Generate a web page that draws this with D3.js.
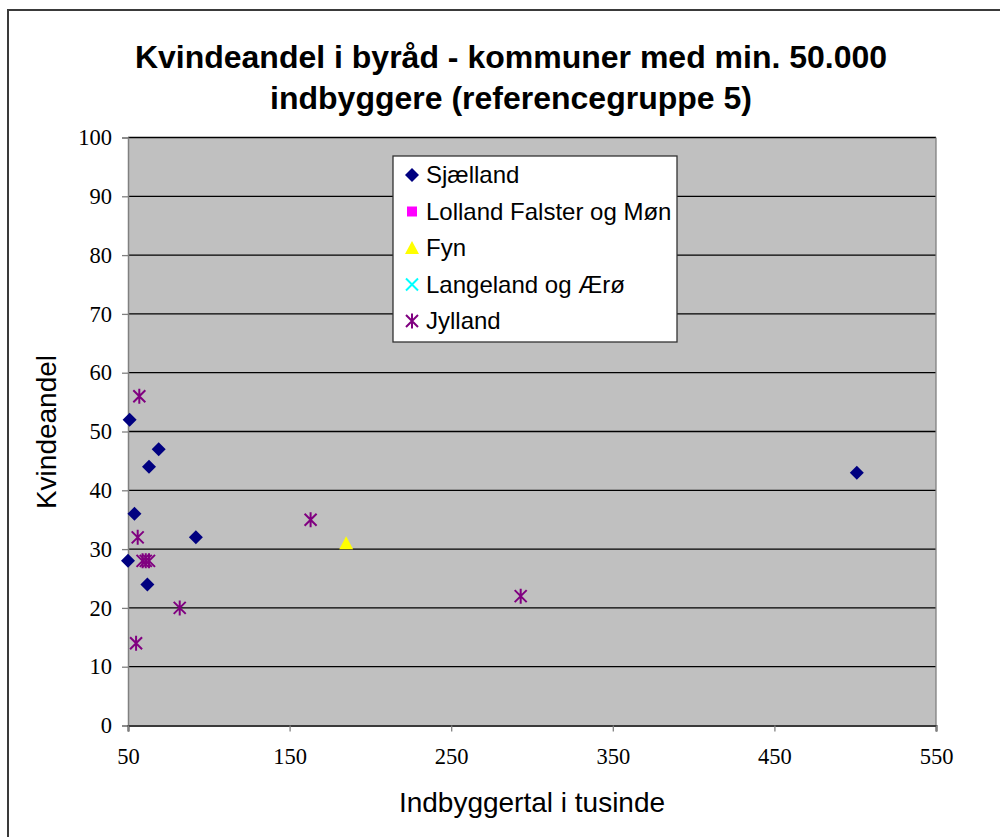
<!DOCTYPE html>
<html>
<head>
<meta charset="utf-8">
<script src="https://cdn.jsdelivr.net/npm/d3@7"></script>
<style>
  body { margin: 0; background: #fff; }
  svg { display: block; }
  .title { font-family: "Liberation Sans", Arial, sans-serif; font-weight: bold; font-size: 32px; }
  .axisTitle { font-family: "Liberation Sans", Arial, sans-serif; font-size: 28px; }
  .tickLabel { font-family: "Liberation Serif", "Times New Roman", serif; font-size: 22.5px; }
  .legendText { font-family: "Liberation Sans", Arial, sans-serif; font-size: 24px; }
</style>
</head>
<body>
<div id="chart"></div>
<script>
// data (x = indbyggere i tusinde, y = kvindeandel i %)
var seriesNames = ["Sjælland", "Lolland Falster og Møn", "Fyn", "Langeland og Ærø", "Jylland"];
var sjaelland = [[51, 52], [69, 47], [63, 44], [54, 36], [92, 32], [50, 28], [62, 24], [501, 43]];
var lollandFalster = [];
var fyn = [[185, 31]];
var langeland = [];
var jylland = [[57, 56], [56, 32], [59, 28], [61, 28], [63, 28], [82, 20], [55, 14], [163, 35], [293, 22]];
var xTicks = [50, 150, 250, 350, 450, 550];
var yTicks = [0, 10, 20, 30, 40, 50, 60, 70, 80, 90, 100];

var width = 1000, height = 837;
var margin = {top: 137.5, right: 64, bottom: 111.5, left: 128};
var plotW = width - margin.left - margin.right,
    plotH = height - margin.top - margin.bottom;

var series = [
    {name: seriesNames[0], data: sjaelland, color: "#000080", shape: "diamond"},
    {name: seriesNames[1], data: lollandFalster, color: "#ff00ff", shape: "square"},
    {name: seriesNames[2], data: fyn, color: "#ffff00", shape: "triangle"},
    {name: seriesNames[3], data: langeland, color: "#00ffff", shape: "x"},
    {name: seriesNames[4], data: jylland, color: "#800080", shape: "star"}
];

// marker paths centred on 0,0 (Excel style)
function markerPath(shape) {
    var r = 7;
    switch (shape) {
        case "diamond": return "M0," + (-r) + "L" + r + ",0L0," + r + "L" + (-r) + ",0Z";
        case "square": return "M-5,-5h10v10h-10Z";
        case "triangle": return "M0,-7L7,6L-7,6Z";
        case "x": return "M-6,-6L6,6M-6,6L6,-6";
        case "star": return "M-6,-6L6,6M-6,6L6,-6M0,-7.5L0,7.5";
    }
}
function isLine(shape) { return shape === "x" || shape === "star"; }

var svg = d3.select("#chart").append("svg")
    .attr("width", width)
    .attr("height", height);

// chart area border (runs off right and bottom)
svg.append("rect")
    .attr("x", 8).attr("y", 10)
    .attr("width", 1000).attr("height", 900)
    .attr("fill", "white")
    .attr("stroke", "#3a3a3a")
    .attr("stroke-width", 2);

var x = d3.scaleLinear().domain([50, 550]).range([0, plotW]);
var y = d3.scaleLinear().domain([0, 100]).range([plotH, 0]);

var g = svg.append("g")
    .attr("transform", "translate(" + margin.left + "," + margin.top + ")");

// plot background
g.append("rect")
    .attr("width", plotW).attr("height", plotH)
    .attr("fill", "#c0c0c0");

// gridlines
g.append("g").selectAll("line")
    .data(yTicks.filter(function (d) { return d > 0; }))
    .enter().append("line")
    .attr("x1", 0).attr("x2", plotW)
    .attr("y1", function (d) { return y(d); })
    .attr("y2", function (d) { return y(d); })
    .attr("stroke", "#000").attr("stroke-width", 1.3);

// right edge of plot area
g.append("line")
    .attr("x1", plotW).attr("x2", plotW)
    .attr("y1", 0).attr("y2", plotH)
    .attr("stroke", "#808080").attr("stroke-width", 1.3);

// y axis
var yAxis = d3.axisLeft(y).tickValues(yTicks).tickSize(6).tickPadding(10);
var yAxisG = g.append("g").call(yAxis);
yAxisG.select(".domain").attr("stroke", "#808080").attr("stroke-width", 1.5);
yAxisG.selectAll(".tick line").attr("stroke", "#808080").attr("stroke-width", 1.3);
yAxisG.selectAll("text").attr("class", "tickLabel").attr("fill", "#000");

// x axis
var xAxis = d3.axisBottom(x).tickValues(xTicks).tickSize(6).tickPadding(17);
var xAxisG = g.append("g")
    .attr("transform", "translate(0," + plotH + ")")
    .call(xAxis);
xAxisG.select(".domain").attr("stroke", "#3a3a3a").attr("stroke-width", 2);
xAxisG.selectAll(".tick line").attr("stroke", "#808080").attr("stroke-width", 1.3);
xAxisG.selectAll("text").attr("class", "tickLabel").attr("fill", "#000");

// points
series.forEach(function (s) {
    g.append("g").selectAll("path")
        .data(s.data)
        .enter().append("path")
        .attr("transform", function (d) { return "translate(" + x(d[0]) + "," + y(d[1]) + ")"; })
        .attr("d", markerPath(s.shape))
        .attr("fill", isLine(s.shape) ? "none" : s.color)
        .attr("stroke", isLine(s.shape) ? s.color : "none")
        .attr("stroke-width", 2);
});

// titles
svg.append("text").attr("class", "title")
    .attr("x", 511).attr("y", 68)
    .attr("text-anchor", "middle")
    .text("Kvindeandel i byråd - kommuner med min. 50.000");
svg.append("text").attr("class", "title")
    .attr("x", 511).attr("y", 109)
    .attr("text-anchor", "middle")
    .text("indbyggere (referencegruppe 5)");

svg.append("text").attr("class", "axisTitle")
    .attr("transform", "translate(56,432) rotate(-90)")
    .attr("text-anchor", "middle")
    .text("Kvindeandel");
svg.append("text").attr("class", "axisTitle")
    .attr("x", 532).attr("y", 812)
    .attr("text-anchor", "middle")
    .text("Indbyggertal i tusinde");

// legend
var legend = svg.append("g").attr("transform", "translate(393,156)");
legend.append("rect")
    .attr("width", 284).attr("height", 186)
    .attr("fill", "white")
    .attr("stroke", "#333").attr("stroke-width", 1.3);
var items = legend.selectAll("g.item")
    .data(series)
    .enter().append("g")
    .attr("class", "item")
    .attr("transform", function (d, i) { return "translate(0," + (19 + i * 36.5) + ")"; });
items.append("path")
    .attr("transform", "translate(19,0)")
    .attr("d", function (d) { return markerPath(d.shape); })
    .attr("fill", function (d) { return isLine(d.shape) ? "none" : d.color; })
    .attr("stroke", function (d) { return isLine(d.shape) ? d.color : "none"; })
    .attr("stroke-width", 2);
items.append("text").attr("class", "legendText")
    .attr("x", 33).attr("y", 8)
    .text(function (d) { return d.name; });
</script>
</body>
</html>
